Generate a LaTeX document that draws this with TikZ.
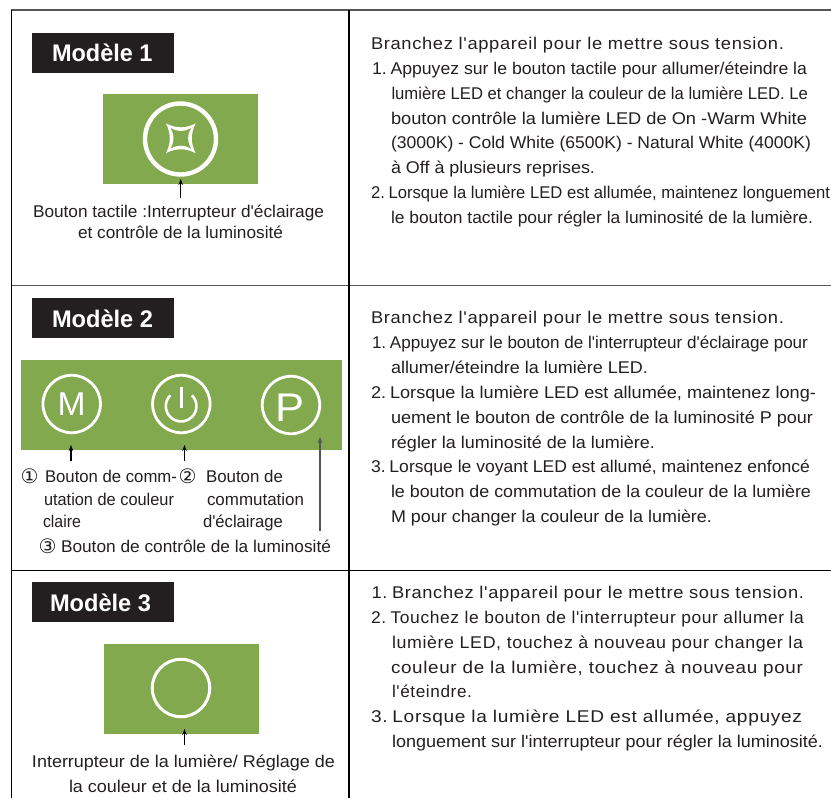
\documentclass[tikz,border=0pt]{standalone}
\usepackage{fontspec}
\usepackage{graphicx}
\setmainfont{Liberation Sans}[Ligatures=TeXOff]
\newfontfamily\symfont{DejaVu Sans}[Ligatures=TeXOff]
\usetikzlibrary{arrows.meta}
\definecolor{panelgreen}{HTML}{82A94D}
\definecolor{ink}{HTML}{231F20}
\definecolor{rulegray}{HTML}{555555}
\newsavebox\fitbox
\newcommand\fitw[2]{\sbox\fitbox{#2}\pgfmathsetmacro\fitratio{#1/\wd\fitbox}\scalebox{\fitratio}[1]{\usebox\fitbox}}
% name, x, baseline y, width, text
\newcommand\tline[6][]{\node[txt,#1] (#2) at (#3,#4) {\fitw{#5}{#6}};}
\newcommand\wide{\addfontfeature{LetterSpace=3.5}}
\newcommand\numgap{\kern-1pt\ }
\tikzset{
  txt/.style={anchor=base west,inner sep=0pt,outer sep=0pt,text=ink,font=\fontsize{17}{20}\selectfont},
  numtxt/.style={font=\fontsize{20}{22}\selectfont},
  titlebox/.style={fill=ink,inner sep=0pt,minimum width=142pt,minimum height=40pt},
  titletxt/.style={text=white,font=\fontsize{24}{28}\selectfont\bfseries},
  greenbox/.style={fill=panelgreen,inner sep=0pt},
  ring/.style={circle,draw=white,inner sep=0pt},
  ptr/.style={draw=black,line width=1.1pt,-{Stealth[length=6pt,width=4.5pt]}},
  hrule/.style={draw=rulegray,line width=1.6pt},
  vrule/.style={draw=black,line width=1.6pt},
}
\begin{document}
\begin{tikzpicture}[x=1pt,y=-1pt]
\useasboundingbox (0,0) rectangle (831,798);
% frame
\draw[hrule] (11,10) -- (831,10);
\draw[hrule] (11,285.5) -- (831,285.5);
\draw[vrule,line width=1.3pt] (11,570.5) -- (831,570.5);
\draw[vrule] (11.5,9.5) -- (11.5,798);
\draw[vrule,line width=2pt] (349,9.5) -- (349,798);
% Modele 1
\node[titlebox] (b1) at (103,53) {};
\tline[titletxt]{m1}{52}{61.5}{100.5}{Modèle 1}
\node[greenbox,minimum width=155pt,minimum height=90pt] (g1) at (180.5,139) {};
\node[ring,line width=4.4pt,minimum size=71pt] (c1) at (180.5,139) {};
\begin{scope}[shift={(180.8,138.3)}]
\fill[white,even odd rule]
  (-14.9,-14.9) .. controls (-5,-9.7) and (5,-9.7) .. (14.9,-14.9)
  .. controls (9.7,-5) and (9.7,5) .. (14.9,14.9)
  .. controls (5,9.7) and (-5,9.7) .. (-14.9,14.9)
  .. controls (-9.7,5) and (-9.7,-5) .. (-14.9,-14.9) -- cycle
  (-11,-11) .. controls (-4,-6.2) and (4,-6.2) .. (11,-11)
  .. controls (6.2,-4) and (6.2,4) .. (11,11)
  .. controls (4,6.2) and (-4,6.2) .. (-11,11)
  .. controls (-6.2,4) and (-6.2,-4) .. (-11,-11) -- cycle;
\end{scope}
\coordinate (a1s) at (180.7,198);
\coordinate (a1e) at (180.7,179);
\draw[ptr] (a1s) -- (a1e);
\tline{l1a}{33}{217}{291}{Bouton tactile :Interrupteur d'éclairage}
\tline{l1b}{78}{238}{205}{et contrôle de la luminosité}
% Modele 2
\node[titlebox] (b2) at (103,318) {};
\tline[titletxt]{m2}{52}{327}{101}{Modèle 2}
\node[greenbox,minimum width=321pt,minimum height=90pt] (g2) at (181.5,405) {};
\node[ring,line width=2.8pt,minimum size=57.5pt] (c2m) at (71.7,404) {};
\node[ring,line width=2.8pt,minimum size=57.5pt] (c2o) at (181.3,404) {};
\node[ring,line width=2.8pt,minimum size=57.5pt] (c2p) at (291,405) {};
\node[anchor=base,inner sep=0pt,text=white,font=\fontsize{33}{36}\selectfont] (tm) at (71.5,415) {\fitw{28}{M}};
\node[anchor=base,inner sep=0pt,text=white,font=\fontsize{40}{44}\selectfont] (tp) at (290,421) {\fitw{29}{P}};
\draw[white,line width=2.6pt] (170.3,395.3) arc[start angle=135,end angle=405,radius=15.3pt];
\draw[white,line width=2.6pt] (181.3,387) -- (181.3,408);
\coordinate (a2ms) at (71,461); \coordinate (a2me) at (71,445);
\coordinate (a2os) at (184.5,461); \coordinate (a2oe) at (184.5,445);
\coordinate (a2ps) at (320,531); \coordinate (a2pe) at (320,437);
\draw[ptr] (a2ms) -- (a2me);
\draw[ptr] (a2os) -- (a2oe);
\draw[ptr,draw=rulegray,line width=1.6pt] (a2ps) -- (a2pe);
\node[txt,numtxt] (n1) at (20.5,483) {\symfont ①};
\tline{l2a}{45}{482}{132}{Bouton de comm-}
\node[txt,numtxt] (n2) at (178.5,483) {\symfont ②};
\tline{l2b}{206}{482}{77}{Bouton de}
\tline{l2c}{44}{505}{130}{utation de couleur}
\tline{l2d}{207}{505}{97}{commutation}
\tline{l2e}{43}{527}{38}{claire}
\tline{l2f}{203}{527}{80}{d'éclairage}
\node[txt,numtxt] (n3) at (38.5,553) {\symfont ③};
\tline{l2g}{61}{552}{270}{Bouton de contrôle de la luminosité}
% Modele 3
\node[titlebox] (b3) at (103,602) {};
\tline[titletxt]{m3}{50}{611}{101}{Modèle 3}
\node[greenbox,minimum width=155pt,minimum height=90pt] (g3) at (181.5,689) {};
\node[ring,line width=3pt,minimum size=57.5pt] (c3) at (181,688) {};
\coordinate (a3s) at (184.5,745); \coordinate (a3e) at (184.5,729);
\draw[ptr] (a3s) -- (a3e);
\tline{l3a}{32}{767}{303}{Interrupteur de la lumière/ Réglage de}
\tline{l3b}{69}{792}{228}{la couleur et de la luminosité}
% right column 1
\tline{r1a}{371}{49}{413}{\wide Branchez l'appareil pour le mettre sous tension.}
\tline{r1b}{372}{74}{435}{1.\numgap Appuyez sur le bouton tactile pour allumer/éteindre la}
\tline{r1c}{391.5}{99}{416.5}{lumière LED et changer la couleur de la lumière LED. Le}
\tline{r1d}{391}{124}{416}{bouton contrôle la lumière LED de On -Warm White}
\tline{r1e}{391}{148}{420}{(3000K) - Cold White (6500K) - Natural White (4000K)}
\tline{r1f}{391}{173}{204}{à Off à plusieurs reprises.}
\tline{r1g}{371}{198}{459}{2.\numgap Lorsque la lumière LED est allumée, maintenez longuement}
\tline{r1h}{391}{223}{422}{le bouton tactile pour régler la luminosité de la lumière.}
% right column 2
\tline{r2a}{371}{323}{413}{\wide Branchez l'appareil pour le mettre sous tension.}
\tline{r2b}{372}{348}{436}{1.\numgap Appuyez sur le bouton de l'interrupteur d'éclairage pour}
\tline{r2c}{391}{373}{257}{allumer/éteindre la lumière LED.}
\tline{r2d}{371}{398}{445}{2.\numgap Lorsque la lumière LED est allumée, maintenez long-}
\tline{r2e}{391}{423}{422}{uement le bouton de contrôle de la luminosité P pour}
\tline{r2f}{391}{448}{264}{régler la luminosité de la lumière.}
\tline{r2g}{371}{472}{439}{3.\numgap Lorsque le voyant LED est allumé, maintenez enfoncé}
\tline{r2h}{391}{497}{420}{le bouton de commutation de la couleur de la lumière}
\tline{r2i}{391}{522}{321}{M pour changer la couleur de la lumière.}
% right column 3
\tline{r3a}{371.5}{598}{432.5}{\wide 1.\numgap Branchez l'appareil pour le mettre sous tension.}
\tline{r3b}{371}{623}{433}{\wide 2.\numgap Touchez le bouton de l'interrupteur pour allumer la}
\tline{r3c}{392}{648}{411}{\wide lumière LED, touchez à nouveau pour changer la}
\tline{r3d}{391}{673}{412}{\wide couleur de la lumière, touchez à nouveau pour}
\tline{r3e}{392}{697}{80}{\wide l'éteindre.}
\tline{r3f}{371}{722}{431}{\wide 3.\numgap Lorsque la lumière LED est allumée, appuyez}
\tline{r3g}{392}{747}{431}{longuement sur l'interrupteur pour régler la luminosité.}
\end{tikzpicture}
\end{document}
